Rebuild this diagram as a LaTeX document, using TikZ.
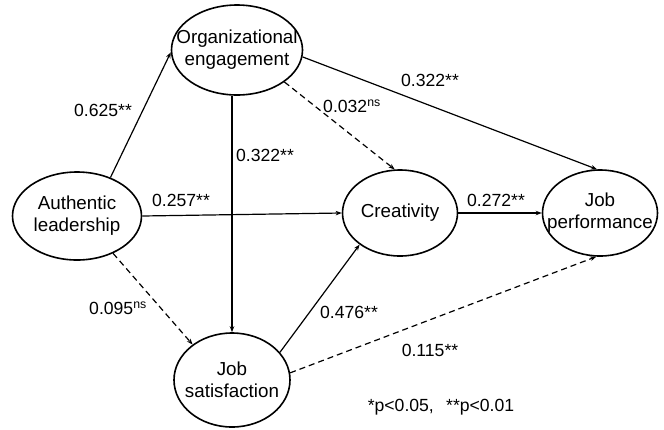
\documentclass[tikz,border=0pt]{standalone}
\usepackage{fontspec}
\setmainfont{Liberation Sans}
\usetikzlibrary{shapes.geometric, arrows.meta}

\begin{document}
\begin{tikzpicture}[x=1pt, y=-1pt,
		var/.style={draw, ellipse, line width=1.6pt, inner sep=0pt},
		txt/.style={align=center, font=\fontsize{18.8}{22}\selectfont},
		coef/.style={font=\fontsize{17.6}{20}\selectfont},
		link/.style={-{Stealth[length=6pt, width=4.5pt]}, line width=1.2pt},
		nslink/.style={link, dash pattern=on 6pt off 4pt}]
		\useasboundingbox (0,0) rectangle (664,429);
		% Variables latentes
		\node[var, minimum width=131, minimum height=90, label={[txt]center:{Organizational\\engagement}}] (oe) at (237,50) {};
		\node[var, minimum width=129, minimum height=88, label={[txt]center:{Authentic\\leadership}}] (al) at (77,216) {};
		\node[var, minimum width=115, minimum height=86, label={[txt]center:{Creativity}}] (cr) at (400,213) {};
		\node[var, minimum width=115, minimum height=86, label={[txt]center:{Job\\performance}}] (jp) at (600,213) {};
		\node[var, minimum width=116, minimum height=94, label={[txt]center:{Job\\satisfaction}}] (js) at (232,380) {};
		% Caminos significativos
		\draw[link] (al.49) -- (oe.182);
		\draw[link] (js.north |- oe.south) -- (js.north);
		\draw[link] (oe.-6) -- (jp.94);
		\draw[link] (al.east) -- (cr.west);
		\draw[link] (cr.east) -- (jp.west);
		\draw[link] (js.30) -- (cr.218);
		% Caminos no significativos
		\draw[nslink] (oe.-34) -- (cr.97);
		\draw[nslink] (al.-46) -- (js.138);
		\draw[nslink] (js.7) -- (jp.-95);
		% Coeficientes
		\node[coef] (c1) at (103,110) {0.625**};
		\node[coef] (c2) at (265,155) {0.322**};
		\node[coef] (c3) at (181,200) {0.257**};
		\node[coef] (c4) at (352,106) {0.032\textsuperscript{ns}};
		\node[coef] (c5) at (430,80) {0.322**};
		\node[coef] (c6) at (496,200) {0.272**};
		\node[coef] (c7) at (118,308) {0.095\textsuperscript{ns}};
		\node[coef] (c8) at (349,312) {0.476**};
		\node[coef] (c9) at (430,350) {0.115**};
		\node[coef] (note) at (441,407) {*p<0.05,\hspace{0.7em}**p<0.01};
	\end{tikzpicture}
\end{document}
